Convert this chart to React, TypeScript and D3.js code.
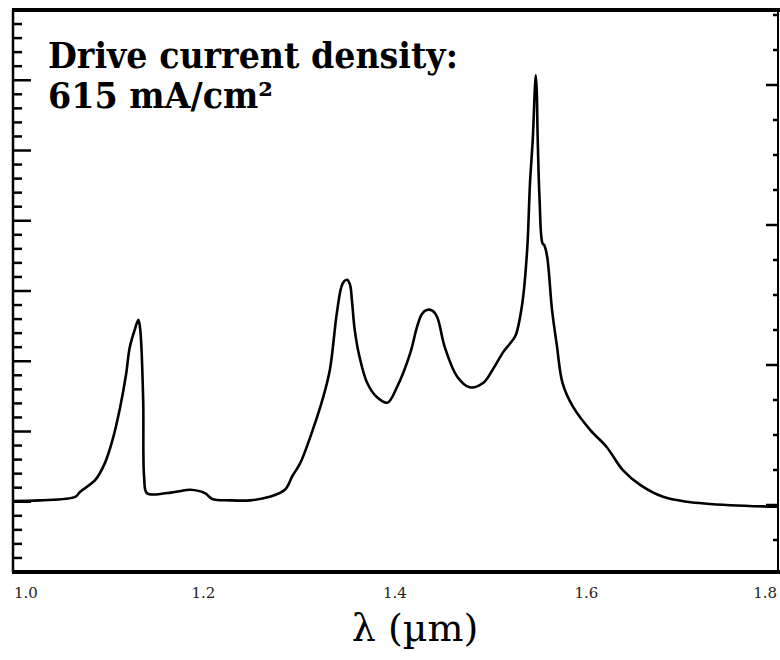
import React from "react";
import * as d3 from "d3";

// Wavelength (µm) and emission intensity (arb. units)
const wavelength = [
  1.0, 1.029, 1.066, 1.071, 1.087, 1.097, 1.105, 1.113, 1.119, 1.123, 1.128, 1.132,
  1.134, 1.137, 1.138, 1.141, 1.16, 1.175, 1.186, 1.202, 1.209, 1.228, 1.249, 1.269,
  1.285, 1.293, 1.301, 1.314, 1.325, 1.332, 1.339, 1.344, 1.347, 1.35, 1.353, 1.355,
  1.358, 1.363, 1.371, 1.381, 1.392, 1.402, 1.416, 1.423, 1.428, 1.433, 1.439, 1.444,
  1.452, 1.465, 1.478, 1.492, 1.502, 1.513, 1.52, 1.526, 1.533, 1.538, 1.541, 1.544,
  1.546, 1.547, 1.548, 1.549, 1.551, 1.554, 1.556, 1.559, 1.564, 1.569, 1.575, 1.586,
  1.604, 1.621, 1.638, 1.656, 1.68, 1.705, 1.75, 1.8,
];
const intensity = [
  1.01, 1.02, 1.07, 1.14, 1.31, 1.55, 1.88, 2.35, 2.8, 3.2, 3.44, 3.59,
  3.44, 2.45, 1.35, 1.12, 1.12, 1.15, 1.17, 1.12, 1.04, 1.02, 1.02, 1.07,
  1.17, 1.37, 1.55, 2.02, 2.49, 2.88, 3.66, 4.06, 4.14, 4.16, 4.09, 3.87,
  3.44, 3.06, 2.69, 2.49, 2.41, 2.63, 3.12, 3.49, 3.67, 3.73, 3.72, 3.63,
  3.2, 2.78, 2.63, 2.69, 2.88, 3.13, 3.25, 3.37, 3.83, 4.58, 5.54, 6.19,
  6.86, 7.07, 6.86, 6.19, 5.3, 4.68, 4.65, 4.48, 3.73, 3.23, 2.69, 2.35,
  2.02, 1.78, 1.45, 1.24, 1.07, 1.0, 0.95, 0.93,
];
const xTickValues = [1.0, 1.2, 1.4, 1.6, 1.8];
const xTickLabels = ["1.0", "1.2", "1.4", "1.6", "1.8"];
const leftTickValues = d3.range(0, 41).map((i) => i * 0.2);
const rightTickValues = d3.range(1, 17);
const annotationLines = ["Drive current density:", "615 mA/cm\u00B2"];
const xAxisTitle = "\u03BB (\u00B5m)";

export default function App() {
  const left = 12;
  const right = 778;
  const top = 10;
  const bottom = 572;
  const x = d3.scaleLinear().domain([1.0, 1.8]).range([left, right]);
  const y = d3.scaleLinear().domain([0, 8]).range([bottom, top]);
  const yR = d3.scaleLinear().domain([0, 16]).range([575, 15]);

  const pts = wavelength.map((w, i) => [w, intensity[i]] as [number, number]);
  const line = d3
    .line<[number, number]>()
    .x((d) => x(d[0]))
    .y((d) => y(d[1]))
    .curve(d3.curveCatmullRom.alpha(0.5));

  const serif = "'DejaVu Serif', 'Liberation Serif', serif";
  const n = xTickValues.length;

  return (
    <svg
      width={780}
      height={660}
      style={{ position: "absolute", left: 0, top: 0, background: "#fff" }}
    >
      <rect x={0} y={0} width={780} height={660} fill="#fff" />
      {/* frame */}
      <line x1={left} x2={right + 2} y1={top} y2={top} stroke="#000" strokeWidth={4} />
      <line x1={left} x2={right + 2} y1={bottom} y2={bottom} stroke="#000" strokeWidth={4} />
      <line x1={left + 1} x2={left + 1} y1={top} y2={bottom} stroke="#000" strokeWidth={2.5} />
      <line x1={right} x2={right} y1={top} y2={bottom} stroke="#000" strokeWidth={2} />

      {/* left ticks */}
      {leftTickValues.map((v, i) => {
        const major = i % 5 === 0;
        return (
          <line
            key={"l" + i}
            x1={left + 1}
            x2={left + 1 + (major ? 18 : 9)}
            y1={y(v)}
            y2={y(v)}
            stroke="#000"
            strokeWidth={2.5}
          />
        );
      })}
      {/* right ticks */}
      {rightTickValues.map((v) => {
        const major = v % 4 === 2;
        return (
          <line
            key={"r" + v}
            x1={right}
            x2={right - (major ? 12 : 5)}
            y1={yR(v)}
            y2={yR(v)}
            stroke="#000"
            strokeWidth={2.5}
          />
        );
      })}

      {/* x tick labels */}
      {xTickValues.map((v, i) => (
        <text
          key={"xt" + i}
          x={i === 0 ? x(v) + 2 : i === n - 1 ? x(v) - 1 : x(v)}
          y={598}
          textAnchor={i === 0 ? "start" : i === n - 1 ? "end" : "middle"}
          fontFamily={serif}
          fontSize={15}
          fill="#222"
        >
          {xTickLabels[i]}
        </text>
      ))}

      {/* spectrum */}
      <path d={line(pts) || ""} fill="none" stroke="#000" strokeWidth={2.6} strokeLinejoin="round" />

      {/* annotation */}
      <text
        x={48}
        y={68}
        fontFamily={serif}
        fontWeight="bold"
        fontSize={35}
        textLength={410}
        lengthAdjust="spacingAndGlyphs"
        fill="#000"
      >
        {annotationLines[0]}
      </text>
      <text
        x={48}
        y={108}
        fontFamily={serif}
        fontWeight="bold"
        fontSize={35}
        textLength={225}
        lengthAdjust="spacingAndGlyphs"
        fill="#000"
      >
        {annotationLines[1]}
      </text>

      {/* x-axis title */}
      <text
        x={415}
        y={641}
        textAnchor="middle"
        fontFamily={serif}
        fontSize={38}
        fill="#000"
      >
        {xAxisTitle}
      </text>
    </svg>
  );
}
